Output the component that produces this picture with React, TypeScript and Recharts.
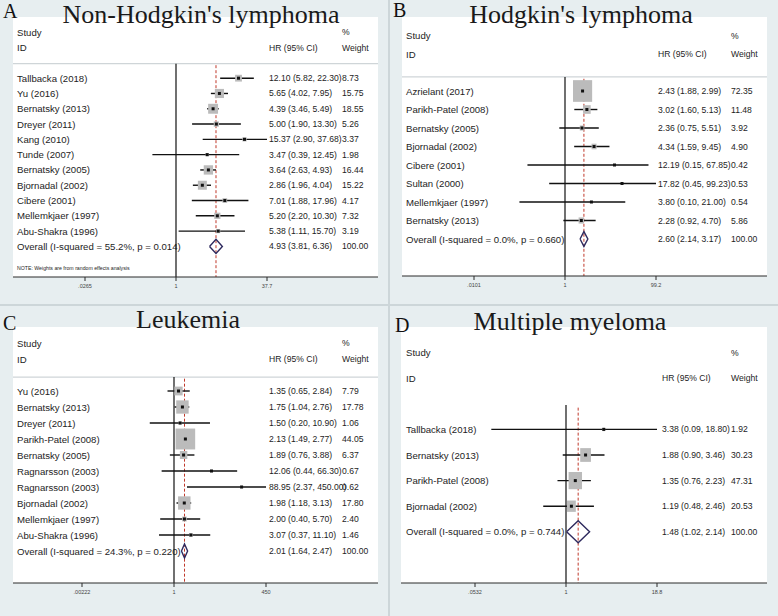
import React from "react"
import { ComposedChart, Scatter, XAxis, YAxis, ReferenceLine, ErrorBar, CartesianGrid } from "recharts"

// A - Non-Hodgkin's lymphoma
const nhlStudies = ["Tallbacka (2018)", "Yu (2016)", "Bernatsky (2013)", "Dreyer (2011)", "Kang (2010)", "Tunde (2007)", "Bernatsky (2005)", "Bjornadal (2002)", "Cibere (2001)", "Mellemkjaer (1997)", "Abu-Shakra (1996)"]
const nhlHR = [12.1, 5.65, 4.39, 5.0, 15.37, 3.47, 3.64, 2.86, 7.01, 5.2, 5.38]
const nhlLow = [5.82, 4.02, 3.46, 1.9, 2.9, 0.39, 2.63, 1.96, 1.88, 2.2, 1.11]
const nhlHigh = [22.3, 7.95, 5.49, 13.3, 37.68, 12.45, 4.93, 4.04, 17.96, 10.3, 15.7]
const nhlWeight = [8.73, 15.75, 18.55, 5.26, 3.37, 1.98, 16.44, 15.22, 4.17, 7.32, 3.19]
const nhlOverall = [4.93, 3.81, 6.36]
const nhlHet = ["55.2%", "0.014"]
const nhlTicks = [".0265", "1", "37.7"]

// B - Hodgkin's lymphoma
const hlStudies = ["Azrielant (2017)", "Parikh-Patel (2008)", "Bernatsky (2005)", "Bjornadal (2002)", "Cibere (2001)", "Sultan (2000)", "Mellemkjaer (1997)", "Bernatsky (2013)"]
const hlHR = [2.43, 3.02, 2.36, 4.34, 12.19, 17.82, 3.8, 2.28]
const hlLow = [1.88, 1.6, 0.75, 1.59, 0.15, 0.45, 0.1, 0.92]
const hlHigh = [2.99, 5.13, 5.51, 9.45, 67.85, 99.23, 21.0, 4.7]
const hlWeight = [72.35, 11.48, 3.92, 4.9, 0.42, 0.53, 0.54, 5.86]
const hlOverall = [2.6, 2.14, 3.17]
const hlHet = ["0.0%", "0.660"]
const hlTicks = [".0101", "1", "99.2"]

// C - Leukemia
const leuStudies = ["Yu (2016)", "Bernatsky (2013)", "Dreyer (2011)", "Parikh-Patel (2008)", "Bernatsky (2005)", "Ragnarsson (2003)", "Ragnarsson (2003)", "Bjornadal (2002)", "Mellemkjaer (1997)", "Abu-Shakra (1996)"]
const leuHR = [1.35, 1.75, 1.5, 2.13, 1.89, 12.06, 88.95, 1.98, 2.0, 3.07]
const leuLow = [0.65, 1.04, 0.2, 1.49, 0.76, 0.44, 2.37, 1.18, 0.4, 0.37]
const leuHigh = [2.84, 2.76, 10.9, 2.77, 3.88, 66.3, 450.0, 3.13, 5.7, 11.1]
const leuWeight = [7.79, 17.78, 1.06, 44.05, 6.37, 0.67, 0.62, 17.8, 2.4, 1.46]
const leuOverall = [2.01, 1.64, 2.47]
const leuHet = ["24.3%", "0.220"]
const leuTicks = [".00222", "1", "450"]

// D - Multiple myeloma
const mmStudies = ["Tallbacka (2018)", "Bernatsky (2013)", "Parikh-Patel (2008)", "Bjornadal (2002)"]
const mmHR = [3.38, 1.88, 1.35, 1.19]
const mmLow = [0.09, 0.9, 0.76, 0.48]
const mmHigh = [18.8, 3.46, 2.23, 2.46]
const mmWeight = [1.92, 30.23, 47.31, 20.53]
const mmOverall = [1.48, 1.02, 2.14]
const mmHet = ["0.0%", "0.744"]
const mmTicks = [".0532", "1", "18.8"]

const SANS = "'Liberation Sans', Arial, sans-serif"
const SERIF = "'Liberation Serif', 'Times New Roman', serif"

type Layout = {
  frame: number[] // x, y, w, h
  plot: number[] // left, top, right, bottom
  letter: number[]
  title: number[]
  cols: number[] // label, hr, weight offsets from plot left
  nullOff: number
  tickOff: number
  box: number[]
  sepRow: number
  showSep: boolean
  diamond: number
  note?: boolean
}

type Panel = {
  letter: string
  title: string
  studies: string[]
  hr: number[]
  low: number[]
  high: number[]
  weight: number[]
  overall: number[]
  het: string[]
  tickMax: number
  tickLabels: string[]
  layout: Layout
}

const panels: Panel[] = [
  {
    letter: "A", title: "Non-Hodgkin's lymphoma", studies: nhlStudies, hr: nhlHR, low: nhlLow, high: nhlHigh,
    weight: nhlWeight, overall: nhlOverall, het: nhlHet, tickMax: 37.7, tickLabels: nhlTicks,
    layout: { frame: [0, 0, 388, 304], plot: [13, 17, 378, 277], letter: [3, 18], title: [201, 23], cols: [4, 256, 329],
      nullOff: 163, tickOff: 254, box: [2.3, 2.3], sepRow: -0.95, showSep: true, diamond: 0.46, note: true },
  },
  {
    letter: "B", title: "Hodgkin's lymphoma", studies: hlStudies, hr: hlHR, low: hlLow, high: hlHigh,
    weight: hlWeight, overall: hlOverall, het: hlHet, tickMax: 99.2, tickLabels: hlTicks,
    layout: { frame: [390, 0, 388, 304], plot: [402, 17, 767, 276], letter: [393, 17], title: [581, 23], cols: [4, 256, 329],
      nullOff: 163, tickOff: 254, box: [2.25, 2.55], sepRow: -0.76, showSep: true, diamond: 0.4 },
  },
  {
    letter: "C", title: "Leukemia", studies: leuStudies, hr: leuHR, low: leuLow, high: leuHigh,
    weight: leuWeight, overall: leuOverall, het: leuHet, tickMax: 450, tickLabels: leuTicks,
    layout: { frame: [0, 306, 388, 310], plot: [13, 327, 378, 583], letter: [3, 330], title: [188, 328], cols: [4, 256, 329],
      nullOff: 161, tickOff: 253, box: [2.95, 3.15], sepRow: -0.87, showSep: true, diamond: 0.44 },
  },
  {
    letter: "D", title: "Multiple myeloma", studies: mmStudies, hr: mmHR, low: mmLow, high: mmHigh,
    weight: mmWeight, overall: mmOverall, het: mmHet, tickMax: 18.8, tickLabels: mmTicks,
    layout: { frame: [390, 306, 388, 310], plot: [401, 327, 767, 583], letter: [395, 332], title: [570, 330], cols: [5, 261, 330],
      nullOff: 165, tickOff: 256, box: [1.95, 2.5], sepRow: -0.95, showSep: false, diamond: 0.43 },
  },
]

const fmt = (v: number) => v.toFixed(2)

const TextShape = (props: any) => {
  const { cx, cy, payload } = props
  return (
    <text
      x={cx}
      y={cy}
      fontSize={payload.size}
      fontFamily={SANS}
      fill="#1d1d1d"
      style={{ fill: "#1d1d1d" }}
      dominantBaseline="central"
    >
      {payload.text}
    </text>
  )
}

const PointShape = (props: any) => {
  const { cx, cy } = props
  return <rect x={cx - 1.5} y={cy - 1.5} width={3} height={3} fill="#111" />
}

const NoShape = () => <g />

function ForestPanel({ p }: { p: Panel }) {
  const lay = p.layout
  const [fx, fy, fw, fh] = lay.frame
  const [pl, pt, pr, pb] = lay.plot
  const plotW = pr - pl
  const L = Math.log(p.tickMax)
  const unitPx = (lay.tickOff - lay.nullOff) / L
  const dMin = -lay.nullOff / unitPx
  const dMax = (plotW - lay.nullOff) / unitPx
  const colX = (off: number) => dMin + off / unitPx
  const n = p.studies.length
  const axisRow = n + 2
  const axisH = 20

  const rows = p.studies.map((_, i) => {
    const est = Math.log(p.hr[i])
    return { x: est, y: i, w: p.weight[i], err: [est - Math.log(p.low[i]), Math.log(p.high[i]) - est] }
  })

  const [oHR, oLo, oHi] = p.overall.map((v) => Math.log(v))
  const diamond = [
    { x: oLo, y: n },
    { x: oHR, y: n - lay.diamond },
    { x: oHi, y: n },
    { x: oHR, y: n + lay.diamond },
    { x: oLo, y: n },
  ]

  const [cLab, cHR, cW] = lay.cols.map(colX)
  const big = 9.6
  const small = 8.6
  const texts: any[] = [
    { x: cLab, y: -3, text: "Study", size: big },
    { x: cLab, y: -2, text: "ID", size: big },
    { x: cW, y: -3, text: "%", size: small },
    { x: cHR, y: -2, text: "HR (95% CI)", size: small },
    { x: cW, y: -2, text: "Weight", size: small },
  ]
  p.studies.forEach((name, i) => {
    texts.push({ x: cLab, y: i, text: name, size: big })
    texts.push({ x: cHR, y: i, text: `${fmt(p.hr[i])} (${fmt(p.low[i])}, ${fmt(p.high[i])})`, size: small })
    texts.push({ x: cW, y: i, text: fmt(p.weight[i]), size: small })
  })
  texts.push({ x: cLab, y: n, text: `Overall  (I-squared = ${p.het[0]}, p = ${p.het[1]})`, size: big })
  texts.push({ x: cHR, y: n, text: `${fmt(p.overall[0])} (${fmt(p.overall[1])}, ${fmt(p.overall[2])})`, size: small })
  texts.push({ x: cW, y: n, text: "100.00", size: small })
  if (lay.note) texts.push({ x: cLab, y: n + 1.43, text: "NOTE: Weights are from random effects analysis", size: 5.2 })

  const BoxShape = (props: any) => {
    const { cx, cy, payload } = props
    const s = Math.sqrt(payload.w)
    const w = lay.box[0] * s
    const h = lay.box[1] * s
    return <rect x={cx - w / 2} y={cy - h / 2} width={w} height={h} fill="#bbbbbb" />
  }

  return (
    <div style={{ position: "absolute", left: fx, top: fy, width: fw, height: fh, background: "#e7eef0", outline: "1px solid #cdd6d9" }}>
      <ComposedChart
        width={fw}
        height={fh}
        margin={{ top: pt - fy, left: pl - fx, right: fx + fw - pr, bottom: fy + fh - pb - axisH }}
      >
        <CartesianGrid horizontal={false} vertical={false} fill="#ffffff" stroke="none" />
        <XAxis
          type="number"
          dataKey="x"
          domain={[dMin, dMax]}
          allowDataOverflow
          ticks={[-L, 0, L]}
          tickFormatter={(v: number) => (v < 0 ? p.tickLabels[0] : v > 0 ? p.tickLabels[2] : p.tickLabels[1])}
          height={axisH}
          stroke="#2a2a2a"
          tickSize={4}
          tickMargin={3}
          tick={{ fontSize: 5.5, fill: "#444", fontFamily: SANS }}
        />
        <YAxis type="number" dataKey="y" domain={[-4, axisRow]} reversed hide allowDataOverflow />
        {lay.showSep && <ReferenceLine y={lay.sepRow} stroke="#cfd5d8" strokeWidth={1.2} />}
        <ReferenceLine segment={[{ x: 0, y: lay.sepRow }, { x: 0, y: axisRow }]} stroke="#111" strokeWidth={1.2} />
        <ReferenceLine
          segment={[{ x: oHR, y: lay.sepRow + 0.1 }, { x: oHR, y: axisRow }]}
          stroke="#c0392b"
          strokeWidth={1}
          strokeDasharray="3 2"
        />
        <Scatter data={rows} shape={BoxShape} isAnimationActive={false} />
        <Scatter data={rows} shape={PointShape} isAnimationActive={false}>
          <ErrorBar dataKey="err" direction="x" width={0} stroke="#111" strokeWidth={1.4} isAnimationActive={false} />
        </Scatter>
        <Scatter
          data={diamond}
          shape={NoShape}
          line={{ stroke: "#2e2a5e", strokeWidth: 1.4 }}
          lineType="joint"
          isAnimationActive={false}
        />
        <Scatter data={texts} shape={TextShape} isAnimationActive={false} />
      </ComposedChart>
      <svg width={fw} height={fh} style={{ position: "absolute", left: 0, top: 0, pointerEvents: "none" }}>
        <text x={lay.letter[0] - fx} y={lay.letter[1] - fy} fontSize={20} fontFamily={SERIF} fill="#111">
          {p.letter}
        </text>
        <text x={lay.title[0] - fx} y={lay.title[1] - fy} fontSize={26} fontFamily={SERIF} fill="#1a1a1a" textAnchor="middle">
          {p.title}
        </text>
      </svg>
    </div>
  )
}

export default function App() {
  return (
    <div style={{ position: "absolute", left: 0, top: 0, width: 778, height: 616, background: "#f3f6f7", overflow: "hidden" }}>
      {panels.map((p) => (
        <ForestPanel key={p.letter} p={p} />
      ))}
    </div>
  )
}
